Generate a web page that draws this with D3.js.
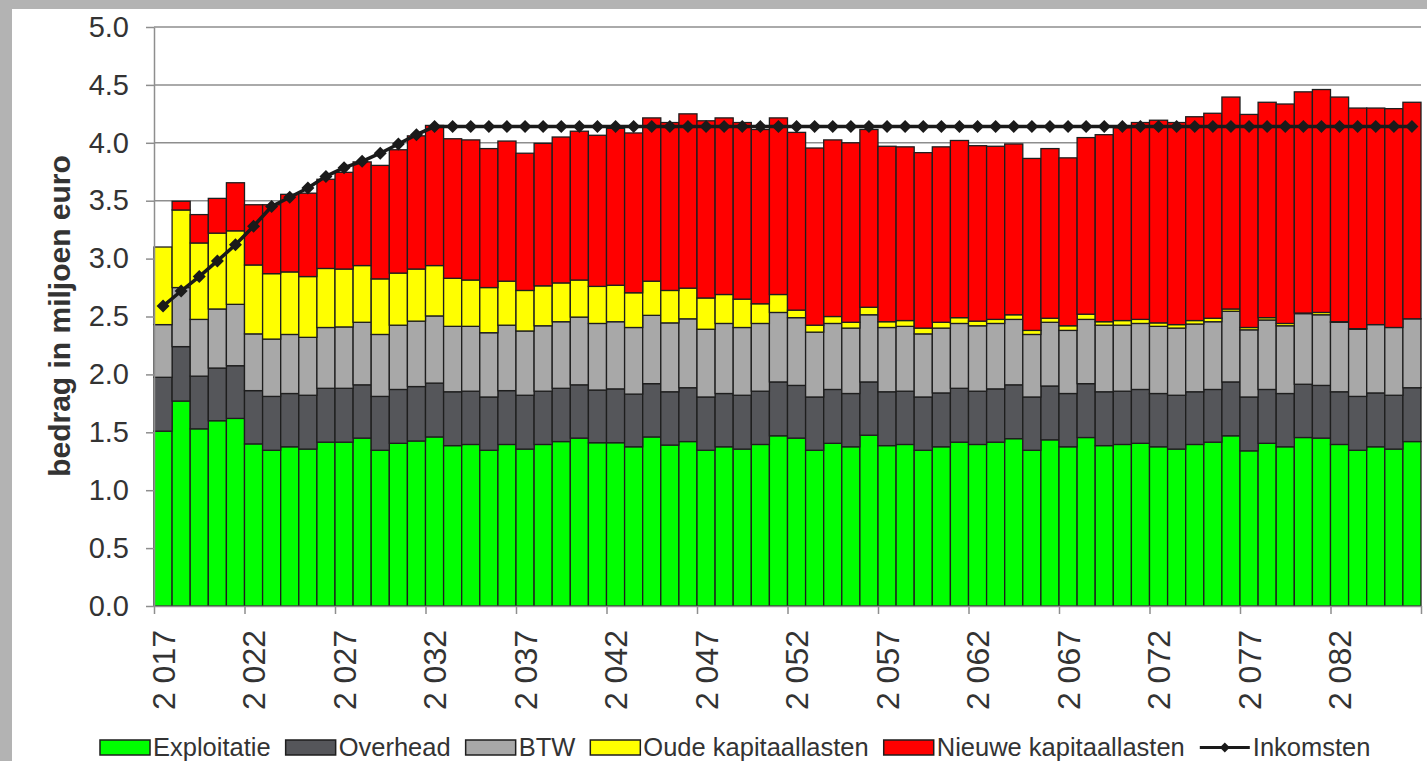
<!DOCTYPE html>
<html>
<head>
	<meta charset="utf-8">
	<title>Kosten en inkomsten</title>
	<script src="https://d3js.org/d3.v7.min.js"></script>
	<style>
		body { margin: 0; background: #b3b3b3; }
		svg { display: block; }
		text { font-family: "Liberation Sans", Arial, sans-serif; fill: #333; }
	</style>
</head>
<body>

<svg width="1427" height="761"></svg>

<script type="text/javascript">
	var years = d3.range(2017, 2087);

	var seriesNames = ["Exploitatie", "Overhead", "BTW", "Oude kapitaallasten", "Nieuwe kapitaallasten"];
	var seriesColors = ["#00ff00", "#55565a", "#a8a8a8", "#ffff00", "#ff0000"];

	// bedragen in miljoen euro per jaar
	var exploitatie = [1.51, 1.77, 1.53, 1.60, 1.62, 1.40, 1.345, 1.375, 1.355, 1.415,
		1.415, 1.45, 1.345, 1.405, 1.425, 1.46, 1.385, 1.395, 1.345, 1.395,
		1.355, 1.395, 1.42, 1.45, 1.41, 1.41, 1.375, 1.46, 1.39, 1.42,
		1.345, 1.375, 1.355, 1.395, 1.47, 1.45, 1.345, 1.405, 1.375, 1.475,
		1.385, 1.395, 1.345, 1.375, 1.415, 1.395, 1.415, 1.445, 1.345, 1.435,
		1.375, 1.455, 1.385, 1.395, 1.405, 1.375, 1.355, 1.395, 1.415, 1.47,
		1.34, 1.405, 1.375, 1.455, 1.45, 1.395, 1.345, 1.375, 1.355, 1.42];

	var overhead = [0.465, 0.47, 0.455, 0.455, 0.455, 0.46, 0.465, 0.46, 0.465, 0.465,
		0.465, 0.46, 0.465, 0.465, 0.47, 0.465, 0.465, 0.46, 0.46, 0.465,
		0.465, 0.46, 0.46, 0.46, 0.455, 0.465, 0.455, 0.46, 0.46, 0.465,
		0.46, 0.46, 0.465, 0.46, 0.465, 0.455, 0.46, 0.465, 0.46, 0.46,
		0.465, 0.46, 0.46, 0.465, 0.465, 0.46, 0.46, 0.465, 0.46, 0.465,
		0.46, 0.465, 0.465, 0.46, 0.465, 0.46, 0.465, 0.455, 0.455, 0.465,
		0.465, 0.465, 0.46, 0.46, 0.455, 0.455, 0.465, 0.465, 0.465, 0.465];

	var btw = [0.455, 0.51, 0.49, 0.51, 0.53, 0.49, 0.495, 0.51, 0.50, 0.525,
		0.53, 0.54, 0.535, 0.555, 0.565, 0.58, 0.565, 0.56, 0.555, 0.565,
		0.555, 0.565, 0.575, 0.585, 0.575, 0.58, 0.575, 0.59, 0.595, 0.595,
		0.585, 0.605, 0.585, 0.585, 0.60, 0.585, 0.56, 0.57, 0.565, 0.58,
		0.555, 0.56, 0.545, 0.56, 0.56, 0.565, 0.565, 0.565, 0.54, 0.55,
		0.545, 0.555, 0.575, 0.57, 0.57, 0.58, 0.58, 0.585, 0.585, 0.61,
		0.58, 0.60, 0.585, 0.61, 0.61, 0.60, 0.58, 0.59, 0.585, 0.595];

	var oudeKapitaallasten = [0.67, 0.67, 0.66, 0.655, 0.635, 0.595, 0.565, 0.54, 0.525, 0.51,
		0.50, 0.49, 0.48, 0.45, 0.45, 0.435, 0.415, 0.40, 0.39, 0.38,
		0.35, 0.345, 0.335, 0.32, 0.32, 0.315, 0.30, 0.295, 0.28, 0.265,
		0.27, 0.25, 0.245, 0.17, 0.155, 0.065, 0.06, 0.06, 0.05, 0.065,
		0.05, 0.05, 0.05, 0.05, 0.05, 0.04, 0.035, 0.04, 0.035, 0.035,
		0.04, 0.045, 0.03, 0.04, 0.035, 0.03, 0.03, 0.03, 0.03, 0.02,
		0.02, 0.02, 0.02, 0.005, 0.02, 0.005, 0.005, 0, 0, 0];

	var nieuweKapitaallasten = [0, 0.075, 0.245, 0.30, 0.415, 0.52, 0.595, 0.67, 0.72, 0.77,
		0.835, 0.895, 0.98, 1.065, 1.15, 1.21, 1.205, 1.21, 1.20, 1.21,
		1.185, 1.23, 1.26, 1.285, 1.305, 1.355, 1.38, 1.41, 1.45, 1.505,
		1.53, 1.525, 1.525, 1.505, 1.525, 1.535, 1.53, 1.525, 1.55, 1.535,
		1.515, 1.50, 1.515, 1.515, 1.53, 1.515, 1.495, 1.475, 1.485, 1.465,
		1.45, 1.525, 1.615, 1.665, 1.70, 1.75, 1.745, 1.76, 1.77, 1.83,
		1.84, 1.86, 1.895, 1.91, 1.925, 1.94, 1.905, 1.87, 1.89, 1.87];

	var inkomsten = [2.59, 2.72, 2.845, 2.98, 3.12, 3.28, 3.45, 3.53, 3.61, 3.71,
		3.785, 3.84, 3.91, 3.99, 4.07, 4.14, 4.14, 4.14, 4.14, 4.14,
		4.14, 4.14, 4.14, 4.14, 4.14, 4.14, 4.14, 4.14, 4.14, 4.14,
		4.14, 4.14, 4.14, 4.14, 4.14, 4.14, 4.14, 4.14, 4.14, 4.14,
		4.14, 4.14, 4.14, 4.14, 4.14, 4.14, 4.14, 4.14, 4.14, 4.14,
		4.14, 4.14, 4.14, 4.14, 4.14, 4.14, 4.14, 4.14, 4.14, 4.14,
		4.14, 4.14, 4.14, 4.14, 4.14, 4.14, 4.14, 4.14, 4.14, 4.14];

	var yTicks = [0, 0.5, 1, 1.5, 2, 2.5, 3, 3.5, 4, 4.5, 5];

	// plot area (note: "top" is reserved on window, so prefix the names)
	var plotLeft = 154, plotRight = 1421, plotTop = 27, plotBottom = 606;
	var gridColor = "#8e8e8e";

	var svg = d3.select("svg");

	// white chart area inside the grey frame
	svg.append("rect")
		.attr("x", 12).attr("y", 9)
		.attr("width", 1415).attr("height", 752)
		.attr("fill", "white");

	var x = d3.scaleBand()
		.domain(years)
		.range([plotLeft, plotRight])
		.padding(0);

	var y = d3.scaleLinear()
		.domain([0, 5])
		.range([plotBottom, plotTop]);

	// gridlines
	svg.append("g")
		.selectAll("line")
		.data(yTicks.filter(function(d) { return d > 0; }))
		.join("line")
		.attr("x1", plotLeft).attr("x2", plotRight)
		.attr("y1", function(d) { return y(d); })
		.attr("y2", function(d) { return y(d); })
		.attr("stroke", gridColor)
		.attr("stroke-width", 1.5);

	// stacked bars
	var rows = years.map(function(yr, i) {
		return {
			year: yr,
			"Exploitatie": exploitatie[i],
			"Overhead": overhead[i],
			"BTW": btw[i],
			"Oude kapitaallasten": oudeKapitaallasten[i],
			"Nieuwe kapitaallasten": nieuweKapitaallasten[i]
		};
	});

	var stacked = d3.stack().keys(seriesNames)(rows);

	svg.append("g")
		.selectAll("g")
		.data(stacked)
		.join("g")
		.attr("fill", function(d, i) { return seriesColors[i]; })
		.selectAll("rect")
		.data(function(d) { return d.filter(function(s) { return s[1] > s[0]; }); })
		.join("rect")
		.attr("x", function(d) { return x(d.data.year); })
		.attr("y", function(d) { return y(d[1]); })
		.attr("width", x.bandwidth())
		.attr("height", function(d) { return y(d[0]) - y(d[1]); })
		.attr("stroke", "#1e1e1e")
		.attr("stroke-width", 1.3);

	// y axis
	var yAxis = d3.axisLeft(y)
		.tickValues(yTicks)
		.tickFormat(d3.format(".1f"))
		.tickSize(8)
		.tickSizeOuter(0)
		.tickPadding(17);

	var gy = svg.append("g")
		.attr("transform", "translate(" + plotLeft + ",0)")
		.call(yAxis);
	gy.selectAll("path, line").attr("stroke", gridColor).attr("stroke-width", 1.5);
	gy.selectAll("text")
		.attr("font-size", 29)
		.attr("font-family", "Liberation Sans, Arial, sans-serif")
		.attr("fill", "#333");

	// x axis: tick marks on the category boundaries
	var xIndex = d3.scaleLinear()
		.domain([0, years.length])
		.range([plotLeft, plotRight]);

	var gxTicks = svg.append("g")
		.attr("transform", "translate(0," + plotBottom + ")")
		.call(d3.axisBottom(xIndex)
			.tickValues(d3.range(0, years.length + 1, 5))
			.tickFormat("")
			.tickSize(8)
			.tickSizeOuter(0));
	gxTicks.selectAll("path, line").attr("stroke", gridColor).attr("stroke-width", 1.5);

	// x axis labels: every fifth year, centred on the bar
	var nl = d3.formatLocale({ decimal: ",", thousands: " ", grouping: [3], currency: ["€", ""] });
	var yearFormat = nl.format(",");

	var gx = svg.append("g")
		.attr("transform", "translate(0," + plotBottom + ")")
		.call(d3.axisBottom(x)
			.tickValues(years.filter(function(d, i) { return i % 5 === 0; }))
			.tickFormat(yearFormat)
			.tickSize(0));
	gx.select(".domain").remove();
	gx.selectAll("text")
		.attr("transform", "rotate(-90)")
		.attr("x", -24)
		.attr("y", 0)
		.attr("dy", "0.36em")
		.attr("text-anchor", "end")
		.attr("font-size", 32)
		.attr("font-family", "Liberation Sans, Arial, sans-serif")
		.attr("fill", "#333");

	// y axis title
	svg.append("text")
		.attr("transform", "translate(70,316) rotate(-90)")
		.attr("text-anchor", "middle")
		.attr("font-size", 30)
		.attr("font-weight", "bold")
		.attr("fill", "#1a1a1a")
		.text("bedrag in miljoen euro");

	// Inkomsten line with diamond markers
	var diamond = "M0,-6.5L6.5,0L0,6.5L-6.5,0Z";
	var cx = function(d, i) { return x(years[i]) + x.bandwidth() / 2; };

	var line = d3.line()
		.x(cx)
		.y(function(d) { return y(d); });

	svg.append("path")
		.datum(inkomsten)
		.attr("d", line)
		.attr("fill", "none")
		.attr("stroke", "#1a1a1a")
		.attr("stroke-width", 3.5);

	svg.append("g")
		.selectAll("path")
		.data(inkomsten)
		.join("path")
		.attr("d", diamond)
		.attr("transform", function(d, i) { return "translate(" + cx(d, i) + "," + y(d) + ")"; })
		.attr("fill", "#1a1a1a");

	// legend
	var legendItems = seriesNames.concat(["Inkomsten"]);
	var legend = svg.append("g").attr("transform", "translate(100,0)");
	var lx = 0;

	legendItems.forEach(function(name, i) {
		var g = legend.append("g").attr("transform", "translate(" + lx + ",0)");
		if (i < seriesNames.length) {
			g.append("rect")
				.attr("x", 0).attr("y", 740)
				.attr("width", 50).attr("height", 15)
				.attr("fill", seriesColors[i])
				.attr("stroke", "#1e1e1e")
				.attr("stroke-width", 1.5);
		} else {
			g.append("line")
				.attr("x1", 0).attr("x2", 50)
				.attr("y1", 747.5).attr("y2", 747.5)
				.attr("stroke", "#1a1a1a")
				.attr("stroke-width", 3);
			g.append("path")
				.attr("d", "M0,-5L5,0L0,5L-5,0Z")
				.attr("transform", "translate(25,747.5)")
				.attr("fill", "#1a1a1a");
		}
		var t = g.append("text")
			.attr("x", 53)
			.attr("y", 756)
			.attr("font-size", 25.5)
			.attr("fill", "#1a1a1a")
			.text(name);
		lx += 53 + t.node().getComputedTextLength() + 15;
	});
</script>

</body>
</html>
